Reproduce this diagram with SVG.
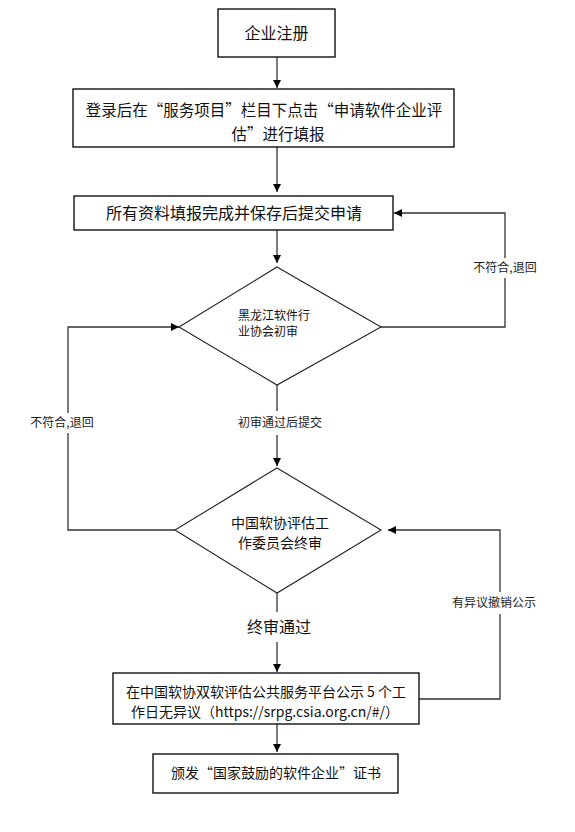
<svg xmlns="http://www.w3.org/2000/svg" width="575" height="832" viewBox="0 0 575 832">
<defs>
<style>
.box{fill:#fff;stroke:#111;stroke-width:1.4}
.dia{fill:#fff;stroke:#222;stroke-width:1.1}
.ln{fill:none;stroke:#333;stroke-width:1.3}
.t{font-family:"Noto Sans CJK SC","Noto Sans",sans-serif;fill:#111;text-anchor:middle}
.ts{font-family:"Noto Sans CJK SC","Noto Sans",sans-serif;fill:#111;text-anchor:start}
.lbl{font-family:"Noto Sans CJK SC","Noto Sans",sans-serif;fill:#222;font-size:12px;text-anchor:middle}
.bg{fill:#fff;stroke:none}
</style>
<marker id="ah" viewBox="0 0 10 10" refX="10" refY="5" markerWidth="8" markerHeight="8" markerUnits="userSpaceOnUse" orient="auto">
<path d="M0,0 L10,5 L0,10 Z" fill="#000"/>
</marker>
</defs>
<rect width="575" height="832" fill="#fff"/>
<g id="connectors">
<line class="ln" x1="277" y1="57" x2="277" y2="88" marker-end="url(#ah)"/>
<line class="ln" x1="277" y1="147" x2="277" y2="192" marker-end="url(#ah)"/>
<line class="ln" x1="277" y1="230" x2="277" y2="263" marker-end="url(#ah)"/>
<polyline class="ln" points="381,327 505,327 505,213 394,213" marker-end="url(#ah)"/>
<line class="ln" x1="277" y1="385" x2="277" y2="466" marker-end="url(#ah)"/>
<polyline class="ln" points="175,530 68,530 68,327 179,327" marker-end="url(#ah)"/>
<line class="ln" x1="277" y1="593" x2="277" y2="672" marker-end="url(#ah)"/>
<polyline class="ln" points="419,699 500,699 500,530 388,530" marker-end="url(#ah)"/>
<line class="ln" x1="277" y1="724" x2="277" y2="752" marker-end="url(#ah)"/>
<rect class="bg" x="466" y="258" width="78" height="20"/>
<text class="lbl" x="505" y="272">不符合,退回</text>
<rect class="bg" x="18" y="413" width="100" height="20"/>
<text class="lbl" x="62" y="427">不符合,退回</text>
<rect class="bg" x="236" y="411" width="84" height="24"/>
<text class="lbl" x="280" y="427">初审通过后提交</text>
<rect class="bg" x="240" y="612" width="76" height="30"/>
<text class="t" x="279" y="633" font-size="16">终审通过</text>
<rect class="bg" x="446" y="592" width="96" height="22"/>
<text class="lbl" x="494" y="607">有异议撤销公示</text>
</g>
<g id="n1">
<rect class="box" x="218" y="9" width="117" height="48"/>
<text class="t" x="276.5" y="39" font-size="16">企业注册</text>
</g>
<g id="n2">
<rect class="box" x="73" y="89" width="381" height="58"/>
<text class="t" x="264" y="116" font-size="15.5">登录后在“服务项目”栏目下点击“申请软件企业评</text>
<text class="t" x="278" y="140" font-size="15.5">估”进行填报</text>
</g>
<g id="n3">
<rect class="box" x="74" y="196" width="319" height="34"/>
<text class="t" x="234" y="219" font-size="16">所有资料填报完成并保存后提交申请</text>
</g>
<g id="n4">
<polygon class="dia" points="277,267 381,327 277,385 179,327"/>
<text class="ts" x="238" y="320" font-size="12">黑龙江软件行</text>
<text class="ts" x="238" y="336" font-size="12">业协会初审</text>
</g>
<g id="n5">
<polygon class="dia" points="277,468 381,530 277,593 175,530"/>
<text class="t" x="280" y="528" font-size="14">中国软协评估工</text>
<text class="t" x="280" y="548" font-size="14">作委员会终审</text>
</g>
<g id="n6">
<rect class="box" x="113" y="673" width="306" height="51"/>
<text class="t" x="266" y="697" font-size="14">在中国软协双软评估公共服务平台公示 5 个工</text>
<text class="t" x="265" y="717" font-size="14">作日无异议（https://srpg.csia.org.cn/#/）</text>
</g>
<g id="n7">
<rect class="box" x="153" y="754" width="245" height="39"/>
<text class="t" x="276" y="778" font-size="14">颁发“国家鼓励的软件企业”证书</text>
</g>
</svg>
